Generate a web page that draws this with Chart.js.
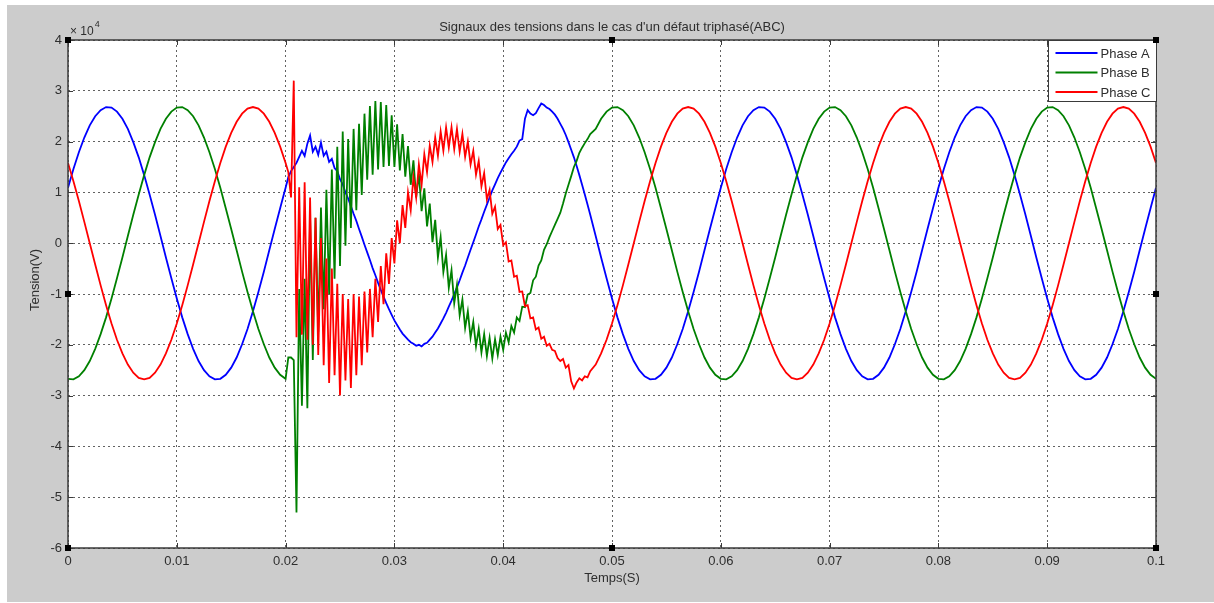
<!DOCTYPE html>
<html><head><meta charset="utf-8">
<script src="https://cdn.jsdelivr.net/npm/chart.js@4.4.1/dist/chart.umd.min.js"></script>
<style>html,body{margin:0;padding:0;background:#fff;overflow:hidden;} canvas{display:block;}</style>
</head><body>
<canvas id="c" width="1214" height="603"></canvas>
<script>
// ---------- texts ----------
const chartTitle = "Signaux des tensions dans le cas d'un défaut triphasé(ABC)";
const xAxisTitle = 'Temps(S)';
const yAxisTitle = 'Tension(V)';
const yExponentBase = '× 10';
const yExponent = '4';
const seriesNames = ['Phase A', 'Phase B', 'Phase C'];
const seriesColors = ['#0000ff', '#008000', '#ff0000'];
const xTickLabels = ['0', '0.01', '0.02', '0.03', '0.04', '0.05', '0.06', '0.07', '0.08', '0.09', '0.1'];
const yTickLabels = ['-6', '-5', '-4', '-3', '-2', '-1', '0', '1', '2', '3', '4'];

// ---------- sampling grid (seconds): [start, step, count] ----------
const timeSegments = [[0, 0.0005, 41], [0.02025, 0.00025, 112], [0.0485, 0.0005, 104]];

// ---------- values (×10^4 V) ----------
const phaseA_before = [1.09, 1.46, 1.79, 2.08, 2.32, 2.50, 2.62, 2.68, 2.67, 2.59, 2.45, 2.25, 1.99, 1.69, 1.34, 0.96, 0.56, 0.14, -0.28, -0.69,
  -1.09, -1.46, -1.79, -2.08, -2.32, -2.50, -2.62, -2.68, -2.67, -2.59, -2.45, -2.25, -1.99, -1.69, -1.34, -0.96, -0.56, -0.14, 0.28, 0.69, 1.09];
const phaseA_fault = [1.30, 1.42, 1.50, 1.58, 1.70, 1.82, 1.72, 1.96, 2.12, 1.80,
  1.90, 1.74, 1.98, 1.72, 1.80, 1.60, 1.66, 1.48, 1.42, 1.26,
  1.16, 1.00, 0.88, 0.73, 0.58, 0.44, 0.28, 0.13, -0.03, -0.18,
  -0.33, -0.49, -0.63, -0.78, -0.92, -1.05, -1.18, -1.30, -1.41, -1.52,
  -1.61, -1.70, -1.78, -1.84, -1.90, -1.95, -1.98, -2.02, -2.00, -2.03,
  -1.98, -1.96, -1.90, -1.84, -1.76, -1.68, -1.58, -1.48, -1.37, -1.25,
  -1.13, -1.00, -0.87, -0.73, -0.58, -0.44, -0.28, -0.13, 0.02, 0.17,
  0.33, 0.47, 0.62, 0.76, 0.90, 1.04, 1.16, 1.28, 1.39, 1.49,
  1.59, 1.67, 1.75, 1.82, 1.90, 2.02, 2.05, 2.45, 2.62, 2.55,
  2.52, 2.56, 2.66, 2.75, 2.72, 2.67, 2.64, 2.59, 2.53, 2.45,
  2.35, 2.25, 2.13, 1.99, 1.84, 1.69, 1.52, 1.34, 1.15, 0.96,
  0.76, 0.56];
const phaseA_after = [0.14, -0.28, -0.69, -1.09, -1.46, -1.79, -2.08, -2.32, -2.50, -2.62, -2.68, -2.67, -2.59, -2.45, -2.25, -1.99, -1.69, -1.34, -0.96, -0.56, -0.14, 0.28, 0.69,
  1.09, 1.46, 1.79, 2.08, 2.32, 2.50, 2.62, 2.68, 2.67, 2.59, 2.45, 2.25, 1.99, 1.69, 1.34, 0.96, 0.56, 0.14, -0.28, -0.69,
  -1.09, -1.46, -1.79, -2.08, -2.32, -2.50, -2.62, -2.68, -2.67, -2.59, -2.45, -2.25, -1.99, -1.69, -1.34, -0.96, -0.56, -0.14, 0.28, 0.69,
  1.09, 1.46, 1.79, 2.08, 2.32, 2.50, 2.62, 2.68, 2.67, 2.59, 2.45, 2.25, 1.99, 1.69, 1.34, 0.96, 0.56, 0.14, -0.28, -0.69,
  -1.09, -1.46, -1.79, -2.08, -2.32, -2.50, -2.62, -2.68, -2.67, -2.59, -2.45, -2.25, -1.99, -1.69, -1.34, -0.96, -0.56, -0.14, 0.28, 0.69,
  1.09];

const phaseB_before = [-2.67, -2.68, -2.62, -2.50, -2.32, -2.08, -1.79, -1.46, -1.09, -0.69, -0.28, 0.14, 0.56, 0.96, 1.34, 1.69, 1.99, 2.25, 2.45, 2.59,
  2.67, 2.68, 2.62, 2.50, 2.32, 2.08, 1.79, 1.46, 1.09, 0.69, 0.28, -0.14, -0.56, -0.96, -1.34, -1.69, -1.99, -2.25, -2.45, -2.59, -2.67];
const phaseB_fault = [-2.25, -2.25, -2.30, -5.30, -0.90, -3.20, -0.70, -3.25, 0.50, -2.30,
  0.50, -1.75, 0.70, -1.30, 1.05, -1.00, 1.45, -0.70, 1.90, -0.45,
  2.20, -0.05, 2.05, 0.30, 2.25, 0.65, 2.35, 0.95, 2.55, 1.25,
  2.70, 1.35, 2.80, 1.45, 2.78, 1.50, 2.72, 1.52, 2.52, 1.50,
  2.34, 1.43, 2.15, 1.31, 1.91, 1.15, 1.63, 0.90, 1.37, 0.63,
  1.08, 0.33, 0.78, 0.02, 0.46, -0.28, 0.12, -0.57, -0.23, -0.88,
  -0.53, -1.18, -0.82, -1.42, -1.11, -1.67, -1.34, -1.86, -1.55, -2.03,
  -1.69, -2.15, -1.79, -2.22, -1.86, -2.27, -1.89, -2.20, -1.84, -2.10,
  -1.76, -1.95, -1.63, -1.76, -1.46, -1.53, -1.25, -1.26, -1.01, -0.98,
  -0.73, -0.66, -0.44, -0.34, -0.13, -0.02, 0.12, 0.24, 0.36, 0.48,
  0.60, 0.78, 0.98, 1.15, 1.32, 1.50, 1.62, 1.78, 1.88, 1.97,
  2.05, 2.15];
const phaseB_after = [2.25, 2.45, 2.59, 2.67, 2.68, 2.62, 2.50, 2.32, 2.08, 1.79, 1.46, 1.09, 0.69, 0.28, -0.14, -0.56, -0.96, -1.34, -1.69, -1.99, -2.25, -2.45, -2.59,
  -2.67, -2.68, -2.62, -2.50, -2.32, -2.08, -1.79, -1.46, -1.09, -0.69, -0.28, 0.14, 0.56, 0.96, 1.34, 1.69, 1.99, 2.25, 2.45, 2.59,
  2.67, 2.68, 2.62, 2.50, 2.32, 2.08, 1.79, 1.46, 1.09, 0.69, 0.28, -0.14, -0.56, -0.96, -1.34, -1.69, -1.99, -2.25, -2.45, -2.59,
  -2.67, -2.68, -2.62, -2.50, -2.32, -2.08, -1.79, -1.46, -1.09, -0.69, -0.28, 0.14, 0.56, 0.96, 1.34, 1.69, 1.99, 2.25, 2.45, 2.59,
  2.67, 2.68, 2.62, 2.50, 2.32, 2.08, 1.79, 1.46, 1.09, 0.69, 0.28, -0.14, -0.56, -0.96, -1.34, -1.69, -1.99, -2.25, -2.45, -2.59,
  -2.67];

const phaseC_before = [1.58, 1.22, 0.83, 0.42, 0.00, -0.42, -0.83, -1.22, -1.58, -1.90, -2.17, -2.39, -2.55, -2.65, -2.68, -2.65, -2.55, -2.39, -2.17, -1.90,
  -1.58, -1.22, -0.83, -0.42, 0.00, 0.42, 0.83, 1.22, 1.58, 1.90, 2.17, 2.39, 2.55, 2.65, 2.68, 2.65, 2.55, 2.39, 2.17, 1.90, 1.58];
const phaseC_fault = [1.40, 0.90, 3.20, -1.85, 1.10, -1.80, 1.20, -1.90, 0.90, -2.00,
  0.50, -2.20, 0.10, -2.40, -0.30, -2.75, -0.50, -2.60, -0.80, -3.00,
  -1.00, -2.70, -1.10, -2.85, -1.00, -2.60, -1.05, -2.40, -0.95, -2.15,
  -0.90, -1.85, -0.70, -1.55, -0.45, -1.20, -0.20, -0.80, 0.10, -0.40,
  0.45, 0.00, 0.75, 0.30, 1.00, 0.65, 1.30, 0.90, 1.55, 1.15,
  1.75, 1.40, 1.92, 1.60, 2.08, 1.72, 2.20, 1.82, 2.28, 1.88,
  2.28, 1.85, 2.25, 1.80, 2.15, 1.70, 2.00, 1.55, 1.82, 1.35,
  1.62, 1.12, 1.38, 0.86, 1.05, 0.58, 0.72, 0.28, 0.36, -0.04,
  0.02, -0.36, -0.34, -0.66, -0.64, -0.96, -0.95, -1.24, -1.22, -1.48,
  -1.46, -1.70, -1.66, -1.88, -1.84, -2.02, -1.98, -2.10, -2.12, -2.26,
  -2.32, -2.28, -2.45, -2.40, -2.72, -2.86, -2.74, -2.66, -2.70, -2.62,
  -2.64, -2.52];
const phaseC_after = [-2.39, -2.17, -1.90, -1.58, -1.22, -0.83, -0.42, 0.00, 0.42, 0.83, 1.22, 1.58, 1.90, 2.17, 2.39, 2.55, 2.65, 2.68, 2.65, 2.55, 2.39, 2.17, 1.90,
  1.58, 1.22, 0.83, 0.42, 0.00, -0.42, -0.83, -1.22, -1.58, -1.90, -2.17, -2.39, -2.55, -2.65, -2.68, -2.65, -2.55, -2.39, -2.17, -1.90,
  -1.58, -1.22, -0.83, -0.42, 0.00, 0.42, 0.83, 1.22, 1.58, 1.90, 2.17, 2.39, 2.55, 2.65, 2.68, 2.65, 2.55, 2.39, 2.17, 1.90,
  1.58, 1.22, 0.83, 0.42, 0.00, -0.42, -0.83, -1.22, -1.58, -1.90, -2.17, -2.39, -2.55, -2.65, -2.68, -2.65, -2.55, -2.39, -2.17, -1.90,
  -1.58, -1.22, -0.83, -0.42, 0.00, 0.42, 0.83, 1.22, 1.58, 1.90, 2.17, 2.39, 2.55, 2.65, 2.68, 2.65, 2.55, 2.39, 2.17, 1.90,
  1.58];

const phaseA = [...phaseA_before, ...phaseA_fault, ...phaseA_after];
const phaseB = [...phaseB_before, ...phaseB_fault, ...phaseB_after];
const phaseC = [...phaseC_before, ...phaseC_fault, ...phaseC_after];

// ---------- build ----------
const times = [];
timeSegments.forEach(([s, st, n]) => { for (let i = 0; i < n; i++) times.push(+(s + i * st).toFixed(6)); });
const toPoints = vals => vals.map((v, i) => ({ x: times[i], y: v }));

const FONT = "'Liberation Sans', Arial, sans-serif";
const TEXT = '#2e2e2e';
const AXIS = '#3a3a3a';

const decor = {
  id: 'decor',
  beforeDraw(chart) {
    const { ctx, chartArea: a } = chart;
    ctx.save();
    ctx.fillStyle = '#ffffff'; ctx.fillRect(0, 0, chart.width, chart.height);
    ctx.fillStyle = '#cccccc'; ctx.fillRect(7, 5, chart.width - 7, chart.height - 6);
    ctx.fillStyle = '#ffffff'; ctx.fillRect(a.left, a.top, a.right - a.left, a.bottom - a.top);
    ctx.restore();
  },
  afterDraw(chart) {
    const { ctx, chartArea: a } = chart;
    const xs = chart.scales.x, ys = chart.scales.y;
    ctx.save();
    // frame
    ctx.strokeStyle = AXIS; ctx.lineWidth = 1.5;
    ctx.strokeRect(a.left, a.top, a.right - a.left, a.bottom - a.top);
    // inward ticks
    ctx.lineWidth = 1;
    ctx.beginPath();
    xs.ticks.forEach(t => {
      const p = Math.round(xs.getPixelForValue(t.value)) + 0.5;
      ctx.moveTo(p, a.bottom); ctx.lineTo(p, a.bottom - 5);
      ctx.moveTo(p, a.top); ctx.lineTo(p, a.top + 5);
    });
    ys.ticks.forEach(t => {
      const p = Math.round(ys.getPixelForValue(t.value)) + 0.5;
      ctx.moveTo(a.left, p); ctx.lineTo(a.left + 5, p);
      ctx.moveTo(a.right, p); ctx.lineTo(a.right - 5, p);
    });
    ctx.stroke();
    // title
    ctx.fillStyle = TEXT;
    ctx.font = '13px ' + FONT;
    ctx.textAlign = 'center'; ctx.textBaseline = 'middle';
    ctx.fillText(chartTitle, (a.left + a.right) / 2, 27);
    // axis titles
    ctx.fillText(xAxisTitle, (a.left + a.right) / 2, 578);
    ctx.save();
    ctx.translate(35, 280); ctx.rotate(-Math.PI / 2);
    ctx.fillText(yAxisTitle, 0, 0);
    ctx.restore();
    // exponent
    ctx.textAlign = 'left'; ctx.textBaseline = 'alphabetic';
    ctx.font = '12px ' + FONT;
    ctx.fillText(yExponentBase, 70, 35);
    const w = ctx.measureText(yExponentBase).width;
    ctx.font = '9px ' + FONT;
    ctx.fillText(yExponent, 70 + w + 1, 27);
    // legend
    const lx = 1048.5, ly = a.top + 0.5, lw = 108, lh = 61;
    ctx.fillStyle = '#ffffff'; ctx.fillRect(lx, ly, lw, lh);
    ctx.strokeStyle = AXIS; ctx.lineWidth = 1; ctx.strokeRect(lx, ly, lw, lh);
    ctx.font = '13px ' + FONT; ctx.textBaseline = 'middle';
    seriesNames.forEach((n, i) => {
      const yy = ly + 12.5 + i * 19.5;
      ctx.strokeStyle = seriesColors[i]; ctx.lineWidth = 1.8;
      ctx.beginPath(); ctx.moveTo(lx + 7, yy); ctx.lineTo(lx + 49, yy); ctx.stroke();
      ctx.fillStyle = TEXT; ctx.fillText(n, lx + 52, yy + 1);
    });
    // selection handles
    ctx.fillStyle = '#000000';
    const mx = (a.left + a.right) / 2, my = ys.getPixelForValue(-1);
    [[a.left, a.top], [mx, a.top], [a.right, a.top], [a.left, my], [a.right, my], [a.left, a.bottom], [mx, a.bottom], [a.right, a.bottom]]
      .forEach(([hx, hy]) => ctx.fillRect(Math.round(hx) - 3, Math.round(hy) - 3, 6, 6));
    ctx.restore();
  }
};

const mk = (label, vals, color, order) => ({
  label, data: toPoints(vals), borderColor: color, backgroundColor: color,
  borderWidth: 1.8, pointRadius: 0, tension: 0, order
});

new Chart(document.getElementById('c'), {
  type: 'line',
  data: {
    datasets: [
      mk(seriesNames[0], phaseA, seriesColors[0], 3),
      mk(seriesNames[1], phaseB, seriesColors[1], 2),
      mk(seriesNames[2], phaseC, seriesColors[2], 1)
    ]
  },
  options: {
    responsive: false, animation: false, devicePixelRatio: 1,
    layout: { padding: { top: 40, right: 58, left: 0, bottom: 0 } },
    plugins: { legend: { display: false }, title: { display: false }, tooltip: { enabled: false } },
    scales: {
      x: {
        type: 'linear', min: 0, max: 0.1,
        afterFit: s => { s.height = 55; },
        grid: { color: 'rgba(70,70,70,0.85)', lineWidth: 1, drawTicks: false },
        border: { display: false, dash: [2, 3] },
        ticks: { stepSize: 0.01, autoSkip: false, maxRotation: 0, padding: 6, color: TEXT, font: { family: FONT, size: 13 },
          callback: v => xTickLabels[Math.round(v / 0.01)] }
      },
      y: {
        type: 'linear', min: -6, max: 4,
        afterFit: s => { s.width = 68; },
        grid: { color: 'rgba(70,70,70,0.85)', lineWidth: 1, drawTicks: false },
        border: { display: false, dash: [2, 3] },
        ticks: { stepSize: 1, autoSkip: false, padding: 6, color: TEXT, font: { family: FONT, size: 13 },
          callback: v => yTickLabels[Math.round(v) + 6] }
      }
    }
  },
  plugins: [decor]
});
</script>
</body></html>
